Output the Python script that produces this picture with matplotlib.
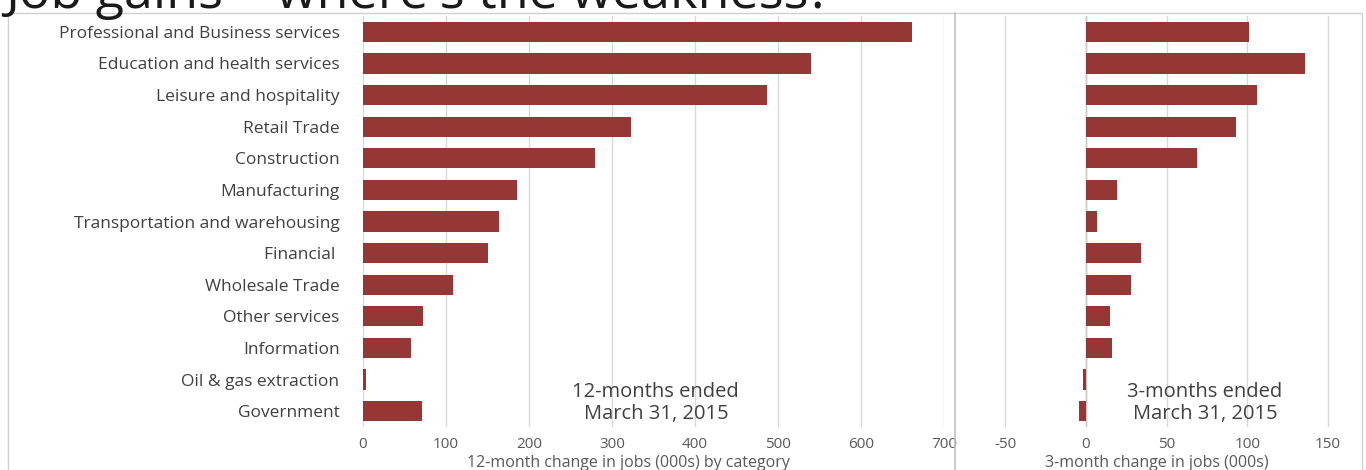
"""Job gains by sector: 12-month and 3-month change, side-by-side bar panels."""

import matplotlib.pyplot as plt
from matplotlib.patches import Rectangle

sectors = [
    "Professional and Business services",
    "Education and health services",
    "Leisure and hospitality",
    "Retail Trade",
    "Construction",
    "Manufacturing",
    "Transportation and warehousing",
    "Financial ",
    "Wholesale Trade",
    "Other services",
    "Information",
    "Oil & gas extraction",
    "Government",
]
change_12m = [661, 540, 487, 323, 280, 186, 164, 150, 109, 72, 58, 4, 71]
change_3m = [101, 136, 106, 93, 69, 19, 7, 34, 28, 15, 16, -2, -4]

ticks_12m = [0, 100, 200, 300, 400, 500, 600, 700]
ticks_3m = [-50, 0, 50, 100, 150]

BAR = "#953735"
GRID = "#d9d9d9"
TEXT = "#595959"
FONT = "Open Sans"

W, H = 1366, 470
fig = plt.figure(figsize=(W / 100, H / 100), dpi=100)
plt.rcParams["font.family"] = FONT
plt.rcParams["axes.unicode_minus"] = False


def px_box(x0, x1, y_top, y_bot):
    return [x0 / W, 1 - y_bot / H, (x1 - x0) / W, (y_bot - y_top) / H]


# outer chart border and the divider between the two panels
fig.patches.append(Rectangle((8 / W, -0.01), (1362 - 8) / W, 1 - 13 / H + 0.01,
                             transform=fig.transFigure, fill=False,
                             edgecolor="#d0d0d0", lw=1))
fig.add_artist(plt.Line2D([955 / W, 955 / W], [0, 1 - 13 / H],
                          transform=fig.transFigure, color="#bfbfbf", lw=1.2))

ax1 = fig.add_axes(px_box(363, 944, 16, 427))
ax2 = fig.add_axes(px_box(955, 1362, 16, 427))

y = range(len(sectors))
for ax, vals, ticks, lim in [
    (ax1, change_12m, ticks_12m, (0, 700)),
    (ax2, change_3m, ticks_3m, (-81, 171)),
]:
    ax.barh(list(y), vals, height=0.64, color=BAR, zorder=3)
    ax.set_xlim(*lim)
    ax.set_ylim(len(sectors) - 0.5, -0.5)
    ax.set_xticks(ticks)
    ax.tick_params(axis="x", length=0, labelsize=11, labelcolor=TEXT, pad=7)
    ax.grid(axis="x", color=GRID, lw=1, zorder=0)
    for s in ax.spines.values():
        s.set_visible(False)
    ax.patch.set_alpha(0)

ax1.set_yticks(list(y))
ax1.set_yticklabels(sectors)
ax1.tick_params(axis="y", length=0, labelsize=12.5, labelcolor="#404040", pad=17)
ax2.set_yticks([])
ax2.axvline(0, color="#c8c8c8", lw=1, zorder=2)

fig.text(628 / W, 1 - 463 / H, "12-month change in jobs (000s) by category",
         ha="center", va="center", fontsize=11.5, color=TEXT)
fig.text(1157 / W, 1 - 463 / H, "3-month change in jobs (000s)",
         ha="center", va="center", fontsize=11.5, color=TEXT)

ax1.text(0.504, 0.058, "12-months ended\nMarch 31, 2015", transform=ax1.transAxes,
         ha="center", va="center", fontsize=14.5, color="#404040", linespacing=1.1)
ax2.text(0.614, 0.058, "3-months ended\nMarch 31, 2015", transform=ax2.transAxes,
         ha="center", va="center", fontsize=14.5, color="#404040", linespacing=1.1)

# headline runs off the top edge
fig.text(5 / W, 1 - 8 / H, "Job gains \u2013 where's the weakness?",
         ha="left", va="baseline", fontsize=37.5, color="#1a1a1a")

fig.savefig("out.png", dpi=100)
